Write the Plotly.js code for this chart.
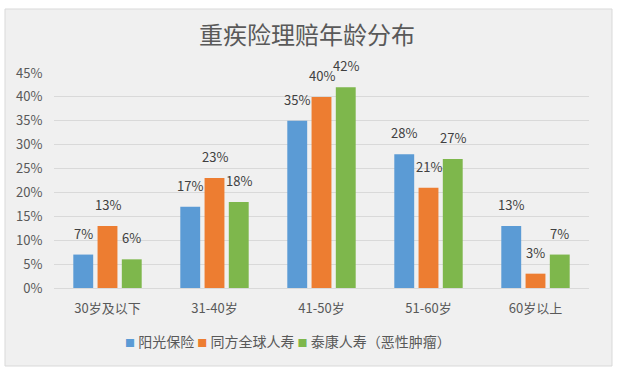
<!DOCTYPE html>
<html><head><meta charset="utf-8">
<script src="https://cdn.plot.ly/plotly-3.0.1.min.js"></script>
<style>html,body{margin:0;padding:0;background:#fff}#c{width:617px;height:378px}</style>
</head><body><div id="c"></div>
<script>
const categories = ['30岁及以下', '31-40岁', '41-50岁', '51-60岁', '60岁以上'];
const seriesNames = ['阳光保险', '同方全球人寿', '泰康人寿（恶性肿瘤）'];
const yangguang = [7, 17, 35, 28, 13];
const tongfang = [13, 23, 40, 21, 3];
const taikang = [6, 18, 42, 27, 7];
const colors = ['#5B9BD5', '#ED7D31', '#7EB74C'];
const yTicks = [0, 5, 10, 15, 20, 25, 30, 35, 40, 45];

const font = 'Microsoft YaHei, "Noto Sans CJK SC", sans-serif';
const L = 54, R = 589, T = 73, B = 288;
const pw = R - L, ph = B - T;
const bargap = 0.32, bargroupgap = 0.18;
const series = [yangguang, tongfang, taikang];
const slot = (pw / categories.length) * (1 - bargap) / series.length;

const data = series.map((vals, i) => ({
  type: 'bar', x: categories, y: vals, name: seriesNames[i],
  marker: {color: colors[i]}, hoverinfo: 'none'
}));

const annotations = [];
series.forEach((vals, i) => {
  vals.forEach((v, j) => {
    annotations.push({x: categories[j], y: v, xref: 'x', yref: 'y', text: v + '%',
      showarrow: false, xanchor: 'center', yanchor: 'bottom', yshift: 10, xshift: (i - 1) * slot,
      font: {size: 13, color: '#404040', family: font}});
  });
});
// legend line
const legendText = seriesNames.map((n, i) =>
  `<span style="color:${colors[i]};font-size:10px">■</span>&nbsp;${n}`).join('&nbsp;');
annotations.push({x: (288 - L) / pw, xref: 'paper', xanchor: 'center',
  y: (B - 341) / ph, yref: 'paper', yanchor: 'middle', showarrow: false,
  text: legendText, font: {size: 14, color: '#595959', family: font}});

const layout = {
  width: 617, height: 378,
  margin: {l: L, r: 617 - R, t: T, b: 378 - B},
  paper_bgcolor: '#ffffff', plot_bgcolor: 'rgba(0,0,0,0)',
  barmode: 'group', bargap: bargap, bargroupgap: bargroupgap,
  showlegend: false,
  title: {text: '重疾险理赔年龄分布', x: 307 / 617, xref: 'container', xanchor: 'center', y: 1 - 36 / 378, yanchor: 'middle',
    font: {size: 24, color: '#595959', family: '"Noto Sans CJK SC", serif'}},
  xaxis: {type: 'category', showgrid: false, showline: true, linecolor: '#d9d9d9', linewidth: 1,
    ticks: 'outside', ticklen: 8, tickcolor: 'rgba(0,0,0,0)',
    tickfont: {size: 13, color: '#595959', family: font}, fixedrange: true},
  yaxis: {range: [0, 45], tickvals: yTicks, ticktext: yTicks.map(v => v + '%'),
    showgrid: true, gridcolor: '#d9d9d9', gridwidth: 1, zeroline: false, showline: false,
    ticks: 'outside', ticklen: 8, tickcolor: 'rgba(0,0,0,0)',
    tickfont: {size: 13, color: '#595959', family: font}, fixedrange: true},
  annotations: annotations,
  shapes: [{type: 'rect', xref: 'paper', yref: 'paper', layer: 'below',
    x0: (5 - L) / pw, x1: (612 - L) / pw, y0: (B - 366) / ph, y1: (B - 9) / ph,
    fillcolor: '#f0f0f0', line: {color: '#d9d9d9', width: 1}}]
};
Plotly.newPlot('c', data, layout, {displayModeBar: false, staticPlot: true});
</script></body></html>
